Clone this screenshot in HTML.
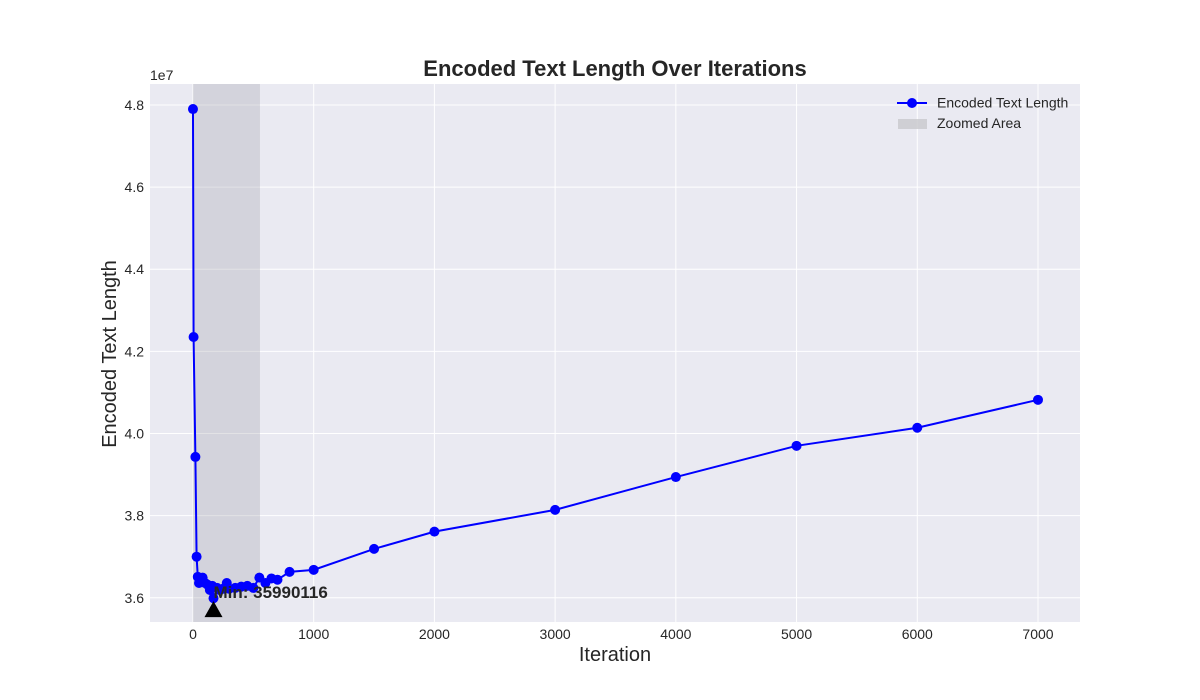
<!DOCTYPE html>
<html><head><meta charset="utf-8"><style>
body{margin:0;background:#fff;}
svg{display:block;font-family:"Liberation Sans",sans-serif;}
</style></head><body>
<svg id="chart" width="1200" height="700">
<rect x="150" y="84" width="930" height="538" fill="#eaeaf2"/>
<g id="grid"></g>
<g id="shade"></g>
<g id="series"></g>
<g id="ticks"></g>
<text x="615" y="76" text-anchor="middle" font-size="22" font-weight="bold" fill="#262626">Encoded Text Length Over Iterations</text>
<text x="150" y="80" font-size="14" fill="#262626">1e7</text>
<text x="615" y="661" text-anchor="middle" font-size="20" fill="#262626">Iteration</text>
<text transform="translate(116,354) rotate(-90)" text-anchor="middle" font-size="20" fill="#262626">Encoded Text Length</text>
<g>
<g>
<line x1="897" y1="103" x2="927" y2="103" stroke="#0000ff" stroke-width="2"/>
<circle cx="912" cy="103" r="5" fill="#0000ff"/>
<text x="937" y="107.5" font-size="14" fill="#262626">Encoded Text Length</text></g>
<g>
<rect x="898" y="119" width="29" height="10" fill="#c8c8cc" opacity="0.8"/>
<text x="937" y="128" font-size="14" fill="#262626">Zoomed Area</text></g>
</g>
</svg>
<script>
const iterations=[0,5,20,30,40,50,60,80,100,120,140,160,170,200,220,250,280,300,350,400,450,500,550,600,650,700,800,1000,1500,2000,3000,4000,5000,6000,7000];
const lengths=[4.790,4.235,3.943,3.700,3.651,3.636,3.644,3.649,3.636,3.632,3.619,3.629,3.599,3.624,3.619,3.622,3.636,3.622,3.624,3.627,3.629,3.624,3.649,3.636,3.647,3.644,3.663,3.668,3.719,3.761,3.814,3.894,3.970,4.014,4.082];
const xTicks=[0,1000,2000,3000,4000,5000,6000,7000];
const yTicks=[3.6,3.8,4.0,4.2,4.4,4.6,4.8];
const zoomRange=[0,555];
const minValue=35990116;
const X0=150,X1=1080,Y0=84,Y1=622,xmin=-356,xmax=7348,ymin=3.541,ymax=4.851;
const xs=v=>X0+(v-xmin)/(xmax-xmin)*(X1-X0);
const ys=v=>Y1-(v-ymin)/(ymax-ymin)*(Y1-Y0);
const NS="http://www.w3.org/2000/svg";
function mk(tag,attrs,parent){const e=document.createElementNS(NS,tag);for(const k in attrs)e.setAttribute(k,attrs[k]);document.getElementById(parent).appendChild(e);return e;}
xTicks.forEach(t=>{
const g=mk('line',{x1:xs(t),x2:xs(t),y1:Y0,y2:Y1,stroke:'#fff','stroke-width':1},'grid');


const l=mk('text',{x:xs(t),y:639,'text-anchor':'middle','font-size':14,fill:'#262626'},'ticks');l.textContent=t;


});
yTicks.forEach(t=>{
const g=mk('line',{x1:X0,x2:X1,y1:ys(t),y2:ys(t),stroke:'#fff','stroke-width':1},'grid');


const l=mk('text',{x:144,y:ys(t)+5,'text-anchor':'end','font-size':14,fill:'#262626'},'ticks');l.textContent=t.toFixed(1);


});
const sh=mk('rect',{x:xs(zoomRange[0]),y:Y0,width:xs(zoomRange[1])-xs(zoomRange[0]),height:Y1-Y0,fill:'#a0a0a8',opacity:0.3},'shade');


const pl=mk('polyline',{points:iterations.map((v,i)=>xs(v)+','+ys(lengths[i])).join(' '),fill:'none',stroke:'#0000ff','stroke-width':2},'series');


iterations.forEach((v,i)=>{
const c=mk('circle',{cx:xs(v),cy:ys(lengths[i]),r:5,fill:'#0000ff'},'series');


});
let mi=0;lengths.forEach((v,i)=>{if(v<lengths[mi])mi=i;});
const mx=xs(iterations[mi]),my=ys(minValue/1e7);
const ar=mk('polygon',{points:`${mx},${my+3} ${mx-9},${my+19} ${mx+9},${my+19}`,fill:'#000'},'series');


const at=mk('text',{x:mx,y:my,'font-size':17,'font-weight':'bold',fill:'#262626'},'series');
at.textContent='Min: '+minValue;


</script>
</body></html>
